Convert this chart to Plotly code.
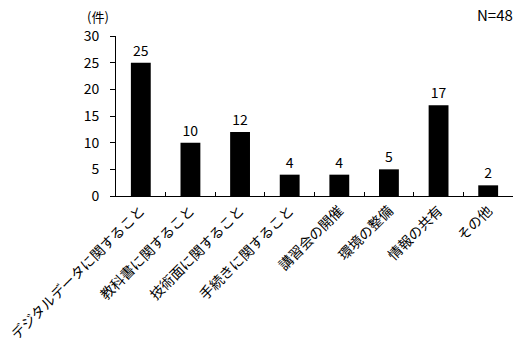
import plotly.graph_objects as go

categories = ["デジタルデータに関すること", "教科書に関すること", "技術面に関すること", "手続きに関すること",
              "講習会の開催", "環境の整備", "情報の共有", "その他"]
values = [25, 10, 12, 4, 4, 5, 17, 2]
y_ticks = [0, 5, 10, 15, 20, 25, 30]

font_family = "Noto Sans CJK JP"

fig = go.Figure()
fig.add_trace(go.Bar(
    x=categories, y=values,
    marker=dict(color="black", line=dict(width=0)),
    width=0.4,
    text=[str(v) for v in values], textposition="outside",
    textfont=dict(size=14, color="black", family=font_family),
    cliponaxis=False, hoverinfo="skip",
))

fig.update_layout(
    template="none",
    width=532, height=363,
    margin=dict(l=116, r=19, t=36, b=167, autoexpand=False),
    paper_bgcolor="white", plot_bgcolor="white",
    font=dict(family=font_family, size=14, color="black"),
    showlegend=False,
    xaxis=dict(
        showline=True, linecolor="black", linewidth=1,
        ticks="inside", tickson="boundaries", ticklen=4, tickcolor="black",
        tickangle=-45, tickfont=dict(size=14, color="black", family=font_family),
        showgrid=False, automargin=False,
    ),
    yaxis=dict(
        range=[0, 30], tickvals=y_ticks, showline=True, linecolor="black", linewidth=1,
        ticks="outside", ticklen=5, tickcolor="black", showgrid=False, zeroline=False,
        tickfont=dict(size=14, color="black", family=font_family), ticklabelstandoff=8,
        automargin=False,
    ),
    annotations=[
        dict(text="(件)", xref="paper", yref="paper", x=-0.013, y=1.195, xanchor="right", yanchor="top",
             showarrow=False, font=dict(size=13, color="black", family=font_family)),
        dict(text="N=48", xref="paper", yref="paper", x=1.005, y=1.215, xanchor="right", yanchor="top",
             showarrow=False, font=dict(size=15, color="black", family="Liberation Sans Narrow, " + font_family)),
    ],
)

fig.write_html("out.html", config={"displayModeBar": False, "staticPlot": True},
               post_script="document.body.style.margin='0';")
